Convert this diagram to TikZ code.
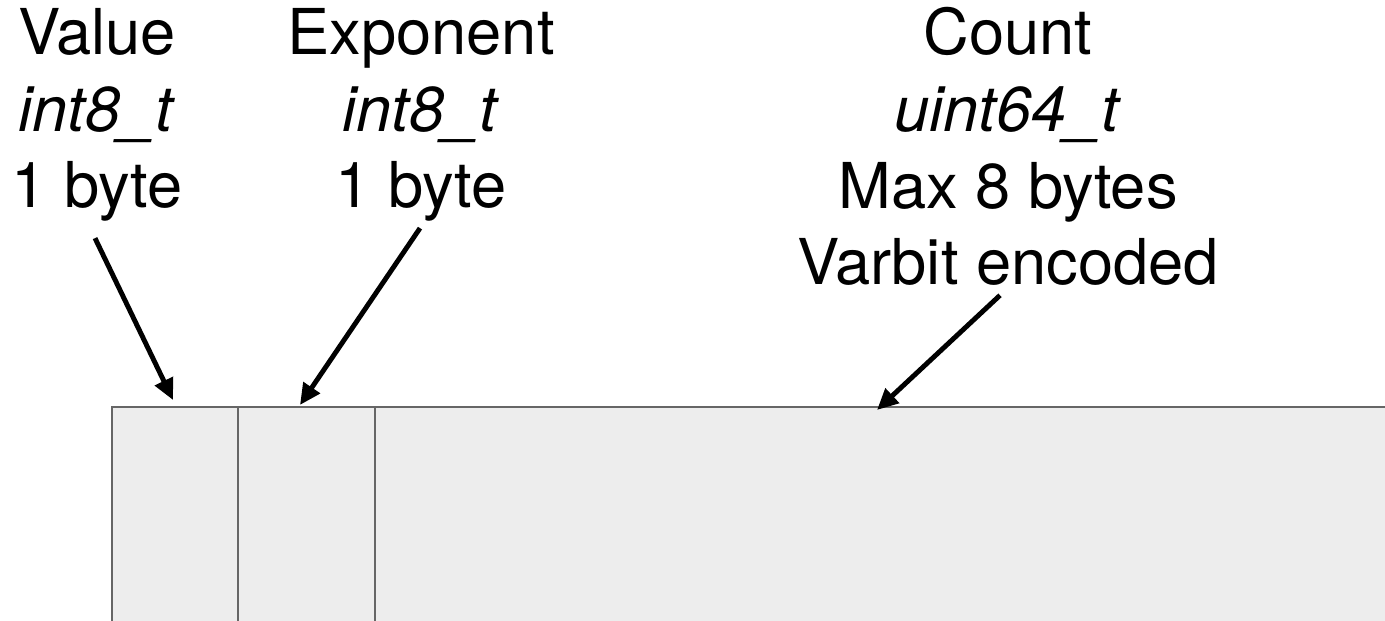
\documentclass[tikz,border=0pt]{standalone}
\usepackage{fontspec}
\setmainfont{TeX Gyre Heros}
\usetikzlibrary{calc, positioning, arrows.meta}
\definecolor{cellfill}{HTML}{EDEDED}
\definecolor{cellline}{HTML}{666666}

\begin{document}
\begin{tikzpicture}[
    fieldtext/.style={align=center, inner sep=0pt, anchor=base, font=\fontsize{36}{43.7}\selectfont},
    pointer/.style={-{Triangle[length=12pt, width=11pt]}, line width=2.8pt},
    cellbox/.style={draw=cellline, fill=cellfill, line width=1.1pt}
  ]
  \useasboundingbox (0,0) rectangle (27.7,-12.42);

  % the record: value | exponent | count
  \path[cellbox] (2.24,-12.9) rectangle (28.3,-8.14);
  \draw[cellline, line width=1.1pt] (4.76,-8.14) -- (4.76,-12.9);
  \draw[cellline, line width=1.1pt] (7.5,-8.14) -- (7.5,-12.9);

  \coordinate (valtip) at (3.46,-8.0);
  \coordinate (exptip) at (6.0,-8.1);
  \coordinate (cnttip) at (17.54,-8.2);

  % base anchor sits on the last line
  \node[fieldtext] (valcol) at (1.94,-4.16) {Value\\\textit{int8\_t}\\1 byte};
  \node[fieldtext] (expcol) at (8.42,-4.16) {Exponent\\\textit{int8\_t}\\1 byte};
  \node[fieldtext] (cntcol) at (20.16,-5.70) {Count\\\textit{uint64\_t}\\Max 8 bytes\\Varbit encoded};

  \draw[pointer] ([shift={(-0.04,-0.32)}]valcol.south) -- (valtip);
  \draw[pointer] ([shift={(-0.02,-0.12)}]expcol.south) -- (exptip);
  \draw[pointer] ([shift={(-0.16,-0.18)}]cntcol.south) -- (cnttip);
\end{tikzpicture}
\end{document}
